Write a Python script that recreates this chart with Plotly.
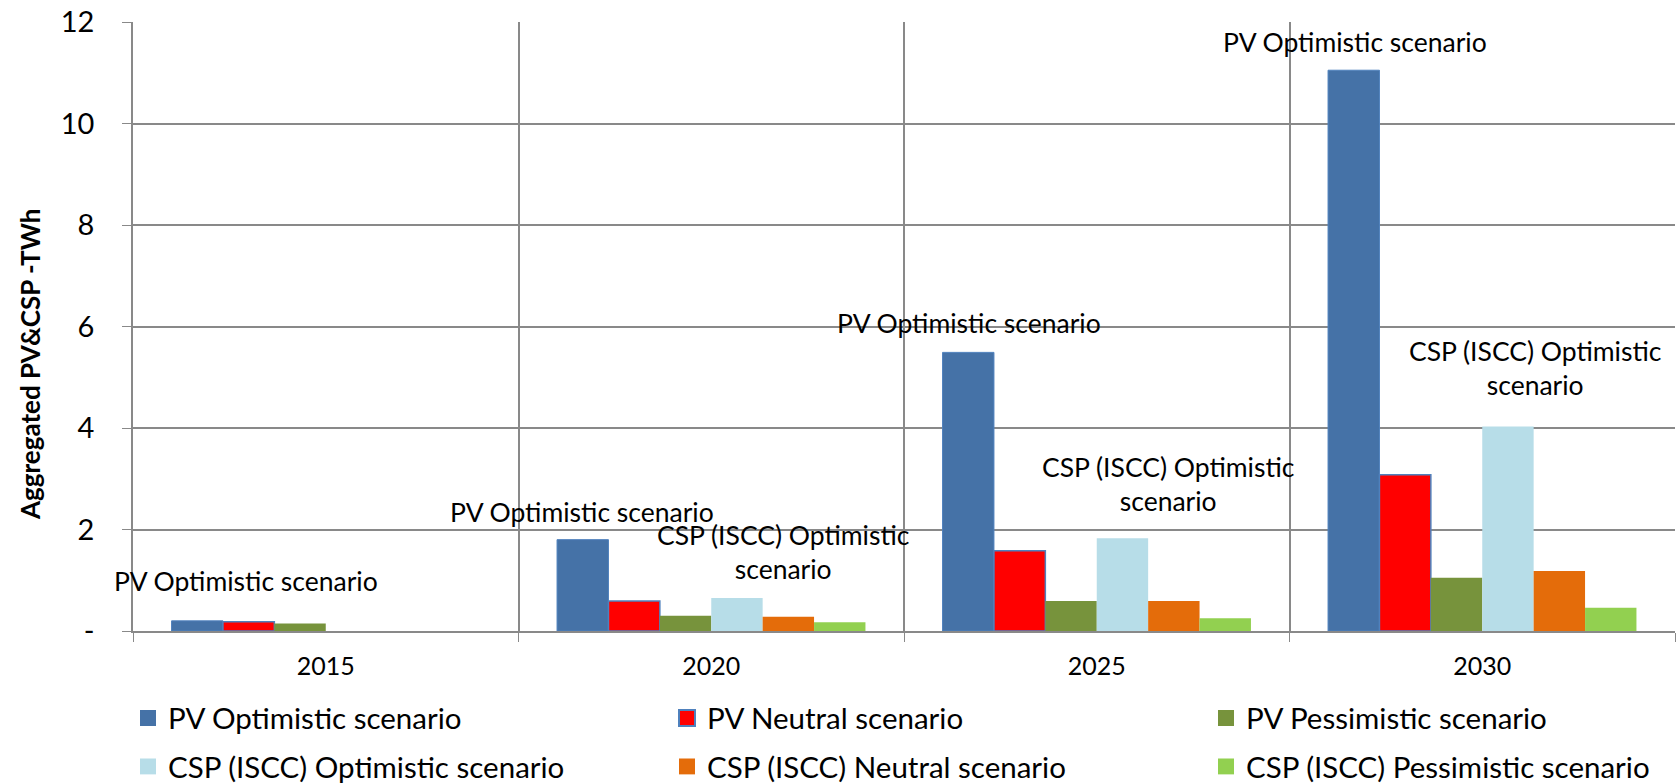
import plotly.graph_objects as go

# Aggregated generation (TWh) per year and scenario
years = ["2015", "2020", "2025", "2030"]
pv_optimistic = [0.20, 1.80, 5.49, 11.05]
pv_neutral = [0.18, 0.59, 1.58, 3.08]
pv_pessimistic = [0.15, 0.30, 0.59, 1.05]
csp_optimistic = [0.0, 0.65, 1.83, 4.03]
csp_neutral = [0.0, 0.28, 0.59, 1.18]
csp_pessimistic = [0.0, 0.17, 0.25, 0.46]

series_names = [
    "PV Optimistic scenario",
    "PV Neutral scenario",
    "PV Pessimistic scenario",
    "CSP (ISCC) Optimistic scenario",
    "CSP (ISCC) Neutral scenario",
    "CSP (ISCC) Pessimistic scenario",
]
series_values = [pv_optimistic, pv_neutral, pv_pessimistic,
                 csp_optimistic, csp_neutral, csp_pessimistic]
fill_colors = ["#4572A7", "#FF0000", "#77933C", "#B7DDE8", "#E46C0A", "#92D050"]
edge_colors = ["#4F81BD", "#4F81BD", "#77933C", "#B7DDE8", "#E46C0A", "#92D050"]
edge_widths = [1, 1.5, 0, 0, 0, 0]

y_tickvals = [0, 2, 4, 6, 8, 10, 12]
y_ticktext = ["-", "2", "4", "6", "8", "10", "12"]

# Series-name labels placed next to selected bars: (year, series index, y, x shift px)
name_labels = [
    ("2015", 0, 0.98, -80),
    ("2020", 0, 2.35, -129),
    ("2020", 3, 1.55, 72),
    ("2025", 0, 6.07, -128),
    ("2025", 3, 2.89, 71),
    ("2030", 0, 11.61, -127),
    ("2030", 3, 5.19, 53),
]

FONT = "Lato, 'Open Sans', sans-serif"
GRID = "#898989"

W, H = 1677, 783
M_L, M_R, M_T, M_B = 133, 2, 22, 152
PLOT_W = W - M_L - M_R
PLOT_H = H - M_T - M_B

fig = go.Figure()

for i, (name, vals) in enumerate(zip(series_names, series_values)):
    fig.add_trace(go.Bar(
        x=years, y=vals, name=name,
        marker=dict(color=fill_colors[i],
                    line=dict(color=edge_colors[i], width=edge_widths[i])),
        legendgroup=name, showlegend=False,
    ))

# Legend entries (square swatches), three per row
for i, name in enumerate(series_names):
    fig.add_trace(go.Scatter(
        x=[years[0]], y=[None], mode="markers", name=name,
        marker=dict(symbol="square", size=16, color=fill_colors[i],
                    line=dict(color=edge_colors[i], width=2 if i == 1 else 0)),
        legendgroup=name, legend="legend" if i < 3 else "legend2",
        hoverinfo="skip",
    ))

for year, si, yv, dx in name_labels:
    text = series_names[si]
    if si == 3:
        text = "CSP (ISCC) Optimistic<br>scenario"
    # category index on the x axis
    fig.add_annotation(x=years.index(year), y=yv, xref="x", yref="y", text=text,
                       showarrow=False, xshift=dx, align="center",
                       font=dict(family=FONT, size=26.5, color="#000000"))

# y-axis title, placed in pixels
fig.add_annotation(x=(30 - M_L) / PLOT_W, y=(H - M_B - 365) / PLOT_H,
                   xref="paper", yref="paper", xanchor="center", yanchor="middle",
                   text="<b>Aggregated PV&amp;CSP -TWh</b>", textangle=-90,
                   showarrow=False, font=dict(family=FONT, size=26, color="#000000"))

legend_common = dict(orientation="h", xanchor="left", yanchor="middle",
                     x=-5 / PLOT_W, entrywidth=494, itemsizing="trace",
                     bgcolor="rgba(0,0,0,0)",
                     font=dict(family=FONT, size=29.5, color="#000000"))

fig.update_layout(
    width=W, height=H,
    margin=dict(l=M_L, r=M_R, t=M_T, b=M_B, autoexpand=False),
    plot_bgcolor="#FFFFFF", paper_bgcolor="#FFFFFF",
    barmode="group", bargap=0.2, bargroupgap=0,
    font=dict(family=FONT, color="#000000"),
    legend=dict(y=-(718.3 - (H - M_B)) / PLOT_H, **legend_common),
    legend2=dict(y=-(766.7 - (H - M_B)) / PLOT_H, **legend_common),
    xaxis=dict(
        type="category", categoryorder="array", categoryarray=years,
        range=[-0.5, len(years) - 0.5],
        tickson="boundaries", ticks="outside", ticklen=9, tickcolor=GRID,
        tickangle=0, automargin=False, ticklabelstandoff=12,
        showgrid=True, gridcolor=GRID, gridwidth=1.5,
        showline=True, linecolor=GRID, linewidth=1.5,
        tickfont=dict(family=FONT, size=25, color="#000000"),
    ),
    yaxis=dict(
        range=[0, 12], tickvals=y_tickvals, ticktext=y_ticktext,
        ticks="outside", ticklen=9, tickcolor=GRID, automargin=False,
        showgrid=True, gridcolor=GRID, gridwidth=1.5,
        showline=True, linecolor=GRID, linewidth=1.5,
        zeroline=False,
        ticklabelstandoff=22,
        tickfont=dict(family=FONT, size=29, color="#000000"),
    ),
)

fig.write_html("out.html")
